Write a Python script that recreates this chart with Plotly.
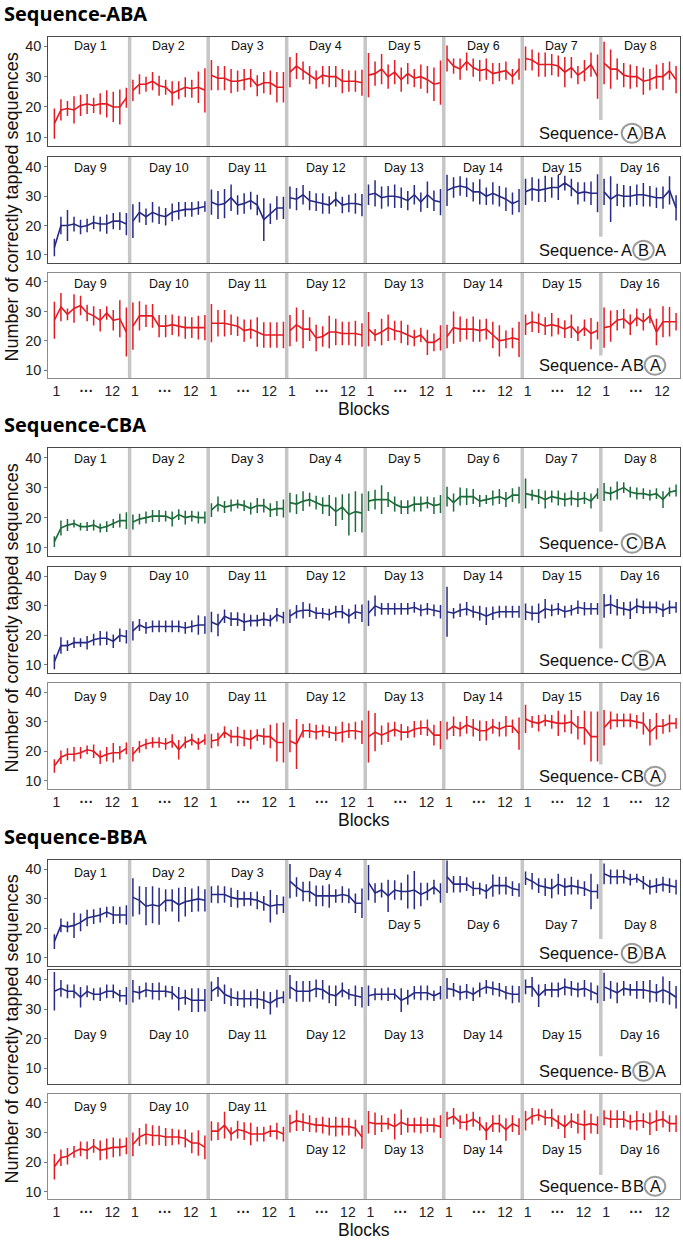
import plotly.graph_objects as go

W, H = 683, 1240

# ---------------- data (mean, error half-width), 8 days x 12 blocks ----------------
aba_a1_mean = [14.5,19,19.5,19,20.5,21,20.5,21,21,20,20,23,
               25.5,27.5,27.5,28.5,27,26.5,24.5,25.5,26.5,26,26.5,25.5,
               30.5,29.5,29.5,28.5,28.5,29,29.5,27,28,28,26.5,26.5,
               31.5,33.5,32,30.5,29,30.5,30,30,28.5,28.5,28.5,28,
               30.5,31,32.5,30,31.5,29,31,29.5,30,29,27.5,28,
               36,33.5,32.5,35,33,32,32.5,31,31.5,32,30,32.5,
               36,35.5,34,34,34,33.5,31.5,33,30.5,32,34,30,
               34.5,32.5,32.5,30.5,30,30,28.5,29,30,30,32,29]
aba_a1_err = [5,3.5,2.5,4.5,3.5,3.3,2.5,3.5,4.5,5,5.8,3.3,
              3.5,3.3,2.5,3,3.3,2.5,4,3,3.3,3,5.2,7.3,
              5,4,4,4,3.5,3.5,3,3.5,3.5,4,5,5,
              5,4.3,3,3,3,3,3.5,3.5,4,3.5,3.5,4.3,
              7.3,4,5,4,4,4,3.5,3,4,4.5,5.5,7.3,
              4.3,2.5,3.5,3,3,3.5,3.5,3.5,3,3,2.5,3.5,
              4,3.5,4,4,3.5,3.5,5,3.5,3,3.5,4,7.3,
              7,6.5,3.5,4,4,3.5,4.5,3.5,4,4.5,3,4.5]

aba_b_mean = [12.5,20,20,20.5,19.5,20,21,20.5,20.5,21.5,21.5,20.5,
              21.5,24.5,23,24.5,23.5,23,24.5,25,25.5,25.5,26,26.5,
              28,27,27.5,29.5,27,27.5,28.5,27,22,24,26,26,
              29.5,29,30.5,28.5,28,27.5,27,29,27,27.5,27.5,27,
              30.5,31,29.5,30,30,29.5,28.5,30.5,28,30.5,28.5,28,
              32,33,33.5,33,31.5,31.5,30,31,30,29,27.5,28.5,
              31.5,32.5,32,32.5,33,33,34.5,33,31,31.5,31,31,
              31.5,29,30.5,30,30,30.5,30.5,30,29.5,29.5,32,26]
aba_b_err = [3,3,5.3,2.5,2.5,2.3,2.3,2.5,3.3,2.8,3,3.8,
             5.8,3.5,2.8,3.5,3,3,3,3,2.5,2.5,2.3,1.8,
             4.3,4.8,5,4.5,3.3,3.5,3,3.5,7.3,3.5,4,3.8,
             3.8,3.8,3.3,3.3,3,3.5,3,2.5,2.8,3,3.5,3.8,
             3.5,4.5,3.8,3.5,4,3.5,3.3,3.3,3.3,4.5,3.5,4.5,
             5.3,3.5,3.3,3.3,3.3,4.3,3,3.8,3.5,4,3.8,4,
             4.5,4,4,4.5,3.5,4.3,2.5,3,3.8,3.3,4,6.5,
             4.5,7.8,3.8,3.8,3.5,3.5,4,3.5,3.5,3.8,4.8,4.3]

aba_a2_mean = [27,31.5,29,31,32,29.5,28.5,27,29.5,27,27.5,23,
               25,28.5,28.5,28.5,25,25,25.5,25,24.5,24.5,24.5,24.5,
               26,26,26,25.5,25,23.5,24,23,22,22,22,22,
               23.5,25.5,24,24,21,21.5,23,23,22.5,22.5,22.5,22,
               24,22,23,24.5,23.5,23,22,21,22,19.5,19.5,21,
               21.5,24.5,24,24,24,23.5,24,22,20,20.5,21,20.5,
               25.5,26.5,26,25,25.5,25,24,25,22.5,24.5,22.5,23.5,
               24.5,25,27,27.5,25.5,28,26.5,28.5,23,26.5,26.5,26.5]
aba_a2_err = [6.3,4.8,2,4.8,3.3,2.8,3.3,3.8,2.3,3.5,6.3,8.3,
              8,5,3.8,4,3.8,3.8,3.5,3.5,3.8,3.5,4,4.3,
              6.5,4.5,4.5,3.5,3.3,3.8,3.3,5,4.3,4.3,4.3,4.5,
              5.3,5.8,6.5,4,4.5,3.5,5.5,4.5,4,4,4.3,4,
              5.8,2,4.5,4.5,3.3,3.8,3.5,2.8,2.5,4.3,3,4.3,
              4,5.5,4.3,3.5,4.3,3.8,3.5,4.5,5.3,3,3.5,6,
              3.5,3.5,3.3,3,4,2.8,3,4,2.5,2.8,5.3,3,
              6.8,5.3,3.5,3.3,3.5,3,3,2.5,4.5,5.3,5,3]

cba_c_mean = [12,16.5,17.5,18,17,17,17.5,16.5,17,18,19,19,
              18.5,19.5,20,20.5,20.5,20.5,19.5,21,20,20.5,20,20,
              22.5,24.5,23.5,24,24.5,24,23,24,24,22.5,23,23,
              25,24.5,25.5,26,25,24,24,22,23.5,21,22,21.5,
              25.5,26,26,26,24.5,23.5,23.5,24.5,24.5,25,24,24.5,
              27,25,27,27,27,25.5,26,26.5,27,26,27.5,27.5,
              28,27.5,27,26,27,26.5,26,26.5,26,26.5,25.5,28,
              28.5,28,29,30,28.5,28,28,27.5,28,26,28.5,29]
cba_c_err = [1.8,2.5,2,1.3,1.3,1.5,1.8,1.5,1.8,1.5,2.3,2.8,
             2.5,1.8,2,2,2,1.8,2.5,1.8,2.3,1.8,2,2,
             2.3,2.5,2,2,1.5,1.8,2,2.5,2.3,2.3,2.5,3,
             3.3,3.3,3.3,2.3,2.3,2.8,3.5,4.8,4.3,7,6.8,6.5,
             3.3,3.3,4.8,2.5,2.5,2.3,2.3,2.5,2.5,2,2.8,3,
             3.3,3,3,2.8,2.5,2,1.5,2.5,2.5,2.5,2.3,2.8,
             5,1.8,2.5,3,2,2.5,2.3,2.5,2.5,2,2.5,1.8,
             3,2.3,3,1.8,1.8,2,1.8,1.8,1.8,2.8,1.5,2]

cba_b_mean = [11,16.5,16.5,17.5,17.5,17.5,18.5,19,19,18,20,19.5,
              21.5,23.5,22.5,23,23,23,23,23,22.5,23,23.5,23.5,
              24.5,23.5,26.5,25.5,25.5,24.5,25,25,25.5,25,27,26,
              26.5,28,28.5,28.5,27.5,27.5,27,28,28,26.5,28,27.5,
              27.5,30,29,29,29,29,29,29.5,28.5,29,28.5,28,
              28,27.5,28.5,29,28,27.5,26.5,27.5,28,28,28,28,
              28,27.5,27.5,29,28.5,29,28,28.5,29.5,29,29,29,
              30,30.5,29.5,29,28.5,30,29.5,29.5,29.5,28.5,29.5,29.5]
cba_b_err = [2.5,2.8,1.8,1.8,1.5,2.3,2,2.5,2.3,2.3,2.3,2.3,
             3.3,2,2,2,2,2,2,2,2,2,3.3,3,
             3.5,3.8,2.3,2.3,2.3,3,2,2,2.3,2,2.3,2,
             2.3,2.3,2.8,2.3,2,1.8,2,2,2.3,2.5,2.5,3,
             4.3,3.5,2,2,2,2,2,1.8,2,2,2,2.3,
             8.5,1.8,2.3,2.3,2,2.5,3,2.3,2,2,2,2,
             2.8,2.5,3.3,3.3,2,2,2,1.8,2.3,2.3,2,2,
             4,3.3,2.8,2.3,3,2.5,2.3,2,2,2.3,2.3,1.8]

cba_a_mean = [15,18,19,19,19.5,20.5,20,18,19,19.5,19.5,21,
              19,21.5,22.5,23,23,22.5,23.5,20.5,23,24,22.5,24,
              23.5,24,26.5,25,25,24.5,24,25.5,25,25,23,23,
              23.5,22.5,27,27,26.5,27,26.5,26,26.5,27,27,26.5,
              25,26.5,25.5,26.5,27.5,26.5,26.5,27.5,28,28,25.5,25.5,
              27,28.5,27.5,29,28,27,27,28.5,27.5,28.5,28.5,26,
              31,30,29.5,30.5,30,29.5,29.5,30,28,28,25,25,
              28,30.5,30.5,30.5,30.5,30,29.5,26.5,28.5,28.5,29.5,29.5]
cba_a_err = [2.3,2.3,2,2.5,2,1.5,2.3,2.3,2.5,3.3,2.3,2,
             2.5,2,1.8,1.8,1.8,2,2.3,3.3,2,2,2,1.8,
             2.5,2.3,2,2.3,3.3,2.8,3.3,2,2.8,4,6.5,6.8,
             3.8,8.5,2.3,2.5,2.5,2,2,2.5,3.5,2.5,3,4,
             8.8,6.5,3.3,3.3,2.5,2.8,2,2.8,2.5,2.8,3.5,4.8,
             3,3.3,2.5,3,3,3.5,3.3,2.5,2.5,3.5,2.3,5.5,
             4.8,2,2.8,2,2.3,4.3,3,4,4,5.8,8.5,8.5,
             6,3,2.3,2.3,2.3,2.3,3.8,4.5,4.5,2.5,3,1.8]

bba_b1_mean = [15.5,21,20.5,21,22,23.5,24,24.5,25.5,24.5,24.5,24.5,
               30.5,29.5,27.5,28,27.5,29.5,29.5,28,29,29.5,30,29.5,
               31.5,31.5,31.5,30.5,30,30,30,29.5,28.5,27.5,28,28,
               36,34,32.5,32.5,31,31,31,31,31.5,31,28.5,28.5,
               35.5,32,33,31,33,32.5,32.5,33,31.5,32.5,34,32,
               37.5,35,35,35,33.5,33.5,32.5,34.5,34.5,34.5,33.5,33,
               37,36,34.5,34,33.5,35,34,34.5,34,33.5,32.5,32.5,
               38.5,37.5,37.5,37.5,36.5,37,35.5,34,34.5,35,34.5,34]
bba_b1_err = [2.5,2.3,1.8,4.3,3,2.8,2.5,2.5,1.8,3,2.8,3.3,
              6.5,4.8,6.5,6.3,6.3,3.8,3.8,5.8,5,4,4.3,3.8,
              2.8,3,2.8,3.3,3,2.5,2.3,3,2.5,5.5,3.3,2.8,
              5.8,3.3,3.3,3.5,3.5,3.5,4,2.3,2.8,2.5,3.3,5,
              6,3.3,2.5,5.5,3.3,3,5.8,6.5,4,3,2.5,3.3,
              5.5,2.8,2.8,2.3,2.5,2,2.5,3.8,3,3,2.5,2.3,
              2.3,2.8,2.5,3,3.3,3.5,3,3,2.5,2.5,6,2.5,
              3.5,2.5,2.5,2.3,2,1.5,2.3,2.5,2.5,2.5,2.5,2.5]

bba_b2_mean = [36,37,36,36,34,36,35,35,36,36,34.5,34.5,
               36,35.5,36.5,36,36,36,35.5,33.5,34,33,33,33,
               36,37.5,35,34,33.5,33.5,33.5,33.5,33,32,33.5,34,
               37.5,36,36,36,37,36.5,35,34.5,36.5,35,34.5,34,
               34.5,35,35,35,35,33,34,35.5,35.5,35.5,34.5,35.5,
               37,36.5,35.5,36,35,36.5,37.5,37,36.5,35.5,35,35,
               37.5,37.5,34.5,36.5,36.5,36.5,37.5,37,36.5,37,36,35,
               37.5,36.5,35.5,37,36.5,36.5,36.5,36,35.5,36.5,35.5,34]
bba_b2_err = [6.5,2.8,2.3,2.3,3.5,2,2,2.3,2.3,2.3,2,3,
              3.8,2.3,2.5,2.8,3,2,2.3,4,2.5,4,4,3.8,
              3.3,3.3,3.3,3,2.5,3,2.5,3.3,3,3.8,3,2,
              4,3.5,3.5,3.5,3,3.3,3,3.5,2.5,1.8,3.5,3.5,
              3.5,2,2,2.3,1.8,4,2.5,2.3,2.5,2.5,1.8,2.3,
              3.5,2.3,2.5,2.5,2.3,2.5,2.3,2.3,2.3,2.3,3,2.8,
              2.5,3.3,3.8,2,2.5,2.5,2.8,2.5,2.5,2.8,3,3,
              4.8,3,3.5,2.5,2,3,3,3.8,3,4.5,4,3.8]

bba_a_mean = [18.5,21.5,22,23.5,24.5,24,25.5,24,24.5,25,25,25.5,
              26,28.5,29.5,29,29,28.5,28.5,28.5,28,26.5,26.5,25,
              30.5,30.5,32.5,29.5,31,30.5,29.5,29.5,29.5,30.5,30.5,29.5,
              33,34,33.5,33,32.5,32.5,32,32,32,32,31.5,28.5,
              33.5,33,33,33,32,33.5,32.5,32.5,32.5,32.5,32.5,32,
              34.5,35.5,33.5,33.5,34.5,33,30.5,33,33,31,33,32,
              34,35.5,36,35,35,33.5,32,34,33,32.5,33,32.5,
              35,34.5,34.5,34.5,33.5,34,34,33,34,34.5,33,33]
bba_a_err = [4.3,2.8,2.8,2,2.5,3,2.3,3.3,3.5,3.3,3,2.8,
             4,3,3.5,3.5,3.3,3,2.8,2.5,3,3.5,4.3,4,
             3.3,3,4.5,2.3,3,3,3.8,2.5,2.5,2,2.8,2.5,
             3,3.5,3,2.8,2.5,2.8,3,3.3,3,3,2.8,4,
             3.8,3.8,2.8,2,4.3,4.3,2.5,2.5,2.8,2.3,2.5,3.8,
             2.5,2.8,2.3,2.8,2.5,2.3,3,2.8,3,3.8,2.8,2.8,
             3.3,2.8,2,2.5,3,2.3,3.8,2.5,3.3,5,3.3,3,
             2.5,3,3,2.8,2.5,3.3,2.5,3.8,3.5,2.8,2.8,2.8]

group_titles = ["Sequence-ABA", "Sequence-CBA", "Sequence-BBA"]
seq_letters = [["A", "B", "A"], ["C", "B", "A"], ["B", "B", "A"]]
days_first = ["Day %d" % d for d in range(1, 9)]
days_second = ["Day %d" % d for d in range(9, 17)]
block_ticks = ["1", "<b>···</b>", "12"]
y_ticks = [10, 20, 30, 40]
y_title = "Number of correctly tapped sequences"
x_title = "Blocks"

RED, NAVY, GREEN = "#e31b23", "#272b85", "#1d6b3b"

panels = [
    (aba_a1_mean, aba_a1_err, RED, days_first, 0, 0),
    (aba_b_mean, aba_b_err, NAVY, days_second, 0, 1),
    (aba_a2_mean, aba_a2_err, RED, days_second, 0, 2),
    (cba_c_mean, cba_c_err, GREEN, days_first, 1, 0),
    (cba_b_mean, cba_b_err, NAVY, days_second, 1, 1),
    (cba_a_mean, cba_a_err, RED, days_second, 1, 2),
    (bba_b1_mean, bba_b1_err, NAVY, days_first, 2, 0),
    (bba_b2_mean, bba_b2_err, NAVY, days_second, 2, 1),
    (bba_a_mean, bba_a_err, RED, days_second, 2, 2),
]

# ---------------- layout geometry (pixels) ----------------
tops = [37, 157, 273, 448, 567, 683, 860, 970, 1094]
bots = [146, 263, 378, 556, 673, 789, 966, 1084, 1199]
yranges = [[7.1, 43.1], [7.2, 43.4], [7.4, 43.05], [7.2, 43.2], [7.2, 43.2],
           [7.2, 43.2], [7.2, 43.2], [4.7, 43.2], [7.6, 43.0]]
day_label_y = [[40.2] * 8, [39.8] * 8, [39.2] * 8, [39.6] * 8, [40.0] * 8,
               [38.6] * 8, [38.7] * 4 + [21.2] * 4, [21.3] * 8, [38.7] * 3 + [24.1] * 5]
sep_cut = [15.7, 16.2, 15.0, 15.3, 15.5, 15.5, 16.4, 14.1, 15.7]
tick_offsets = [1.3, 5.9, 9.85]
XL, XR = 48.3, 680.0
XRANGE = [0.07, 96.6]
group_title_y = [14, 424, 836]
blocks_dy = [31, 31, 30.5]
FONT = "Liberation Sans, Arial, sans-serif"


def py(p):
    return 1 - p / H


def pxx(p):
    return p / W


fig = go.Figure()
shapes = []
annotations = []

for i, (mean, err, col, dlabels, g, r) in enumerate(panels):
    n = i + 1
    xs, ys, es = [], [], []
    for d in range(8):
        for b in range(12):
            k = d * 12 + b
            xs.append(d * 12 + b + 1)
            ys.append(mean[k])
            es.append(err[k])
        xs.append(None)
        ys.append(None)
        es.append(0)
    xa = "x" if n == 1 else "x%d" % n
    ya = "y" if n == 1 else "y%d" % n
    fig.add_trace(go.Scatter(
        x=xs, y=ys, mode="lines", xaxis=xa, yaxis=ya,
        line=dict(color=col, width=1.6), connectgaps=False,
        error_y=dict(type="data", array=es, visible=True, thickness=1.5,
                     width=0, color=col),
        showlegend=False, hoverinfo="skip"))

    bottom = (r == 2)
    border = "#8c8c8c" if bottom else "#4a4a4a"
    xax = dict(domain=[pxx(XL), pxx(XR)], range=XRANGE, anchor=ya,
               showgrid=False, zeroline=False, showline=True, mirror=True,
               linecolor=border, linewidth=1, ticks="", fixedrange=True)
    if bottom:
        tv, tt = [], []
        for d in range(8):
            tv += [d * 12 + o for o in tick_offsets]
            tt += block_ticks
        xax.update(tickvals=tv, ticktext=tt, showticklabels=True, tickangle=0,
                   tickfont=dict(family=FONT, size=14, color="#222"))
    else:
        xax.update(showticklabels=False)
    yax = dict(domain=[py(bots[i]), py(tops[i])], range=yranges[i], anchor=xa,
               showgrid=False, zeroline=False, showline=True, mirror=True,
               linecolor=border, linewidth=1, tickvals=y_ticks,
               ticks="outside", ticklen=3, tickcolor="#777",
               tickfont=dict(family=FONT, size=14.5, color="#222"), fixedrange=True)
    fig.layout["xaxis" if n == 1 else "xaxis%d" % n] = xax
    fig.layout["yaxis" if n == 1 else "yaxis%d" % n] = yax

    # day separators
    for d in range(1, 8):
        shapes.append(dict(type="line", xref=xa, yref=ya, x0=d * 12 + 0.5, x1=d * 12 + 0.5,
                           y0=yranges[i][0], y1=yranges[i][1], layer="below",
                           line=dict(color="#c6c6c6", width=3.5)))
    # white box behind sequence label
    shapes.append(dict(type="rect", xref=xa, yref=ya, x0=76, x1=XRANGE[1],
                       y0=yranges[i][0], y1=sep_cut[i], layer="below",
                       fillcolor="white", line=dict(width=0)))
    # day labels
    for d in range(8):
        annotations.append(dict(x=d * 12 + 6.5, y=day_label_y[i][d], xref=xa, yref=ya,
                                text=dlabels[d], showarrow=False,
                                font=dict(family=FONT, size=12.5, color="#111")))
    # sequence label with circled letter
    cy = bots[i] - 13
    pre_end = 621
    annotations.append(dict(x=pxx(pre_end), y=py(cy), xref="paper", yref="paper",
                            text="Sequence-", showarrow=False, xanchor="right",
                            yanchor="middle",
                            font=dict(family=FONT, size=16.5, color="#111")))
    cur = pre_end
    for li, letter in enumerate(seq_letters[g]):
        w = 22 if li == r else 11.5
        cx = cur + w / 2
        annotations.append(dict(x=pxx(cx), y=py(cy), xref="paper", yref="paper",
                                text=letter, showarrow=False, xanchor="center",
                                yanchor="middle",
                                font=dict(family=FONT, size=16.5, color="#111")))
        if li == r:
            shapes.append(dict(type="circle", xref="paper", yref="paper",
                               x0=pxx(cx - 10.3), x1=pxx(cx + 10.3),
                               y0=py(cy + 9.8), y1=py(cy - 9.2),
                               line=dict(color="#9b9b9b", width=2)))
        cur += w

# group titles, axis titles
for g in range(3):
    annotations.append(dict(x=pxx(2), y=py(group_title_y[g]), xref="paper", yref="paper",
                            text="<b>%s</b>" % group_titles[g], showarrow=False,
                            xanchor="left", yanchor="middle",
                            font=dict(family="Open Sans, Liberation Sans, sans-serif",
                                      size=20, color="#000")))
    t, b = tops[g * 3], bots[g * 3 + 2]
    annotations.append(dict(x=pxx(11), y=py((t + b) / 2), xref="paper", yref="paper",
                            text=y_title, showarrow=False, textangle=-90,
                            xanchor="center", yanchor="middle",
                            font=dict(family=FONT, size=18, color="#111")))
    annotations.append(dict(x=pxx((XL + XR) / 2), y=py(b + blocks_dy[g]), xref="paper",
                            yref="paper", text=x_title, showarrow=False, xanchor="center",
                            yanchor="middle",
                            font=dict(family=FONT, size=17.5, color="#111")))

fig.update_layout(width=W, height=H, margin=dict(l=0, r=0, t=0, b=0),
                  paper_bgcolor="white", plot_bgcolor="white",
                  shapes=shapes, annotations=annotations, showlegend=False)

fig.write_html("out.html", config={"displayModeBar": False, "staticPlot": True},
               post_script="document.body.style.margin='0';"
                           "document.body.style.padding='0';"
                           "document.body.style.overflow='hidden';")
